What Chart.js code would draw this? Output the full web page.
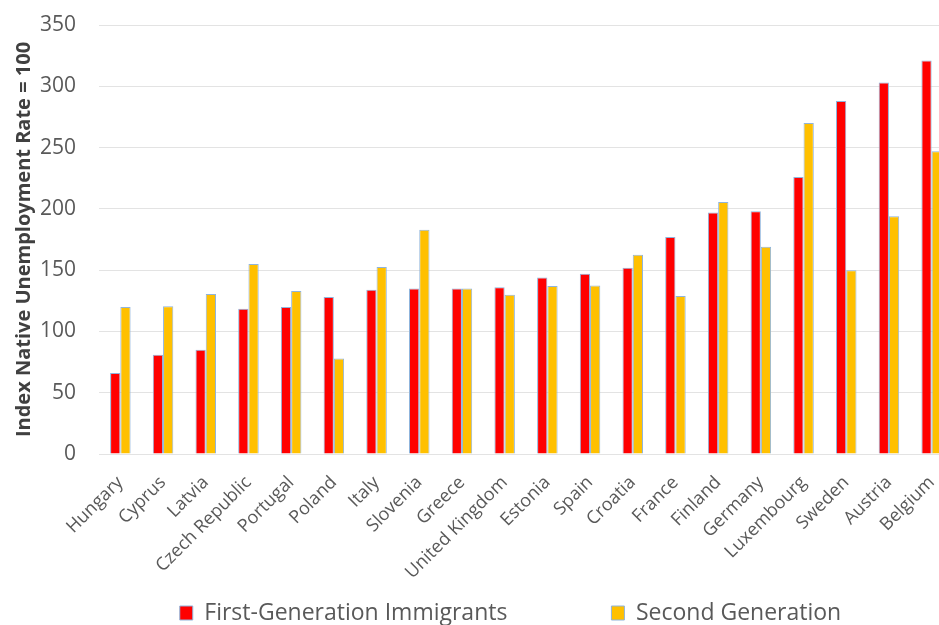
<!DOCTYPE html>
<html>
<head>
<meta charset="utf-8">
<script src="https://cdn.jsdelivr.net/npm/chart.js@4"></script>
<style>
    html, body { margin: 0; padding: 0; background: #fff; overflow: hidden; }
    #wrap { width: 939px; height: 625px; overflow: hidden; }
</style>
</head>
<body>
<div id="wrap"><canvas id="unemploymentChart" width="1020" height="634"></canvas></div>
<script>
// Data
const countries = ['Hungary', 'Cyprus', 'Latvia', 'Czech Republic', 'Portugal', 'Poland', 'Italy',
    'Slovenia', 'Greece', 'United Kingdom', 'Estonia', 'Spain', 'Croatia', 'France', 'Finland',
    'Germany', 'Luxembourg', 'Sweden', 'Austria', 'Belgium'];
const firstGeneration = [66, 81, 85, 118.5, 120, 128, 134, 135, 135, 136, 144, 147, 152, 177, 197, 198, 226, 288, 303, 321];
const secondGeneration = [120, 120.5, 130.5, 155, 133, 78, 152.5, 183, 135, 130, 137, 137.5, 162.5, 129, 205.5, 169, 270, 150, 194, 247];
const yTicks = [0, 50, 100, 150, 200, 250, 300, 350];

const FONT = "'Open Sans', sans-serif";
const GREY = '#595959';
const LEGEND_FONT = 23;
const LEGEND_GAP = 104;
const LEGEND_TEXT_Y = 613;
const LEGEND_SHIFT = 28;

// Excel-style legend: wide gap between the two items but only a thin strip at the bottom
const legendPlacement = {
    id: 'legendPlacement',
    beforeLayout(chart) {
        const legend = chart.legend;
        if (legend && !legend._fitWrapped) {
            const fit = legend.fit;
            legend.fit = function () {
                fit.call(this);
                this.height = 40;
            };
            legend._fitWrapped = true;
        }
    },
    afterLayout(chart) {
        const legend = chart.legend;
        const top = LEGEND_TEXT_Y - LEGEND_GAP - LEGEND_FONT / 2;
        legend.left += LEGEND_SHIFT;
        legend.right += LEGEND_SHIFT;
        legend.width = legend.right - legend.left;
        legend.top = top;
        legend.bottom = chart.height;
        legend.height = legend.bottom - legend.top;
    }
};

function createChart() {
    const ctx = document.getElementById('unemploymentChart').getContext('2d');

    new Chart(ctx, {
        type: 'bar',
        data: {
            labels: countries,
            datasets: [{
                label: 'First-Generation Immigrants',
                data: firstGeneration,
                backgroundColor: '#ff0000',
                borderColor: '#8fb4dc',
                borderWidth: 1,
                categoryPercentage: 0.48,
                barPercentage: 1.0
            }, {
                label: 'Second Generation',
                data: secondGeneration,
                backgroundColor: '#ffc000',
                borderColor: '#8fb4dc',
                borderWidth: 1,
                categoryPercentage: 0.48,
                barPercentage: 1.0
            }]
        },
        options: {
            responsive: false,
            animation: false,
            devicePixelRatio: 1,
            layout: { padding: { top: 25, left: 12, right: 67, bottom: 0 } },
            plugins: {
                tooltip: { enabled: false },
                legend: {
                    position: 'bottom',
                    labels: {
                        color: GREY,
                        font: { family: FONT, size: LEGEND_FONT },
                        boxWidth: 13,
                        boxHeight: 14,
                        padding: LEGEND_GAP
                    }
                }
            },
            scales: {
                x: {
                    grid: { display: false, drawTicks: false },
                    border: { display: false },
                    afterFit: axis => { axis.height = 140; },
                    ticks: {
                        color: GREY,
                        font: { family: FONT, size: 18 },
                        minRotation: 45,
                        maxRotation: 45,
                        autoSkip: false,
                        padding: 18
                    }
                },
                y: {
                    min: 0,
                    max: 350,
                    afterBuildTicks: axis => { axis.ticks = yTicks.map(v => ({ value: v })); },
                    afterFit: axis => {
                        axis.width = 87;
                        axis.paddingTop = 0;
                        axis.paddingBottom = 0;
                    },
                    grid: { color: '#e3e3e3', lineWidth: 1, drawTicks: false },
                    border: { display: false },
                    ticks: {
                        color: GREY,
                        font: { family: FONT, size: 21 },
                        padding: 23
                    },
                    title: {
                        display: true,
                        text: 'Index Native Unemployment Rate = 100',
                        color: '#404040',
                        font: { family: FONT, size: 20, weight: 'bold' },
                        padding: { top: 0, bottom: 5 }
                    }
                }
            }
        },
        plugins: [legendPlacement]
    });
}

document.addEventListener('DOMContentLoaded', createChart);
</script>
</body>
</html>
